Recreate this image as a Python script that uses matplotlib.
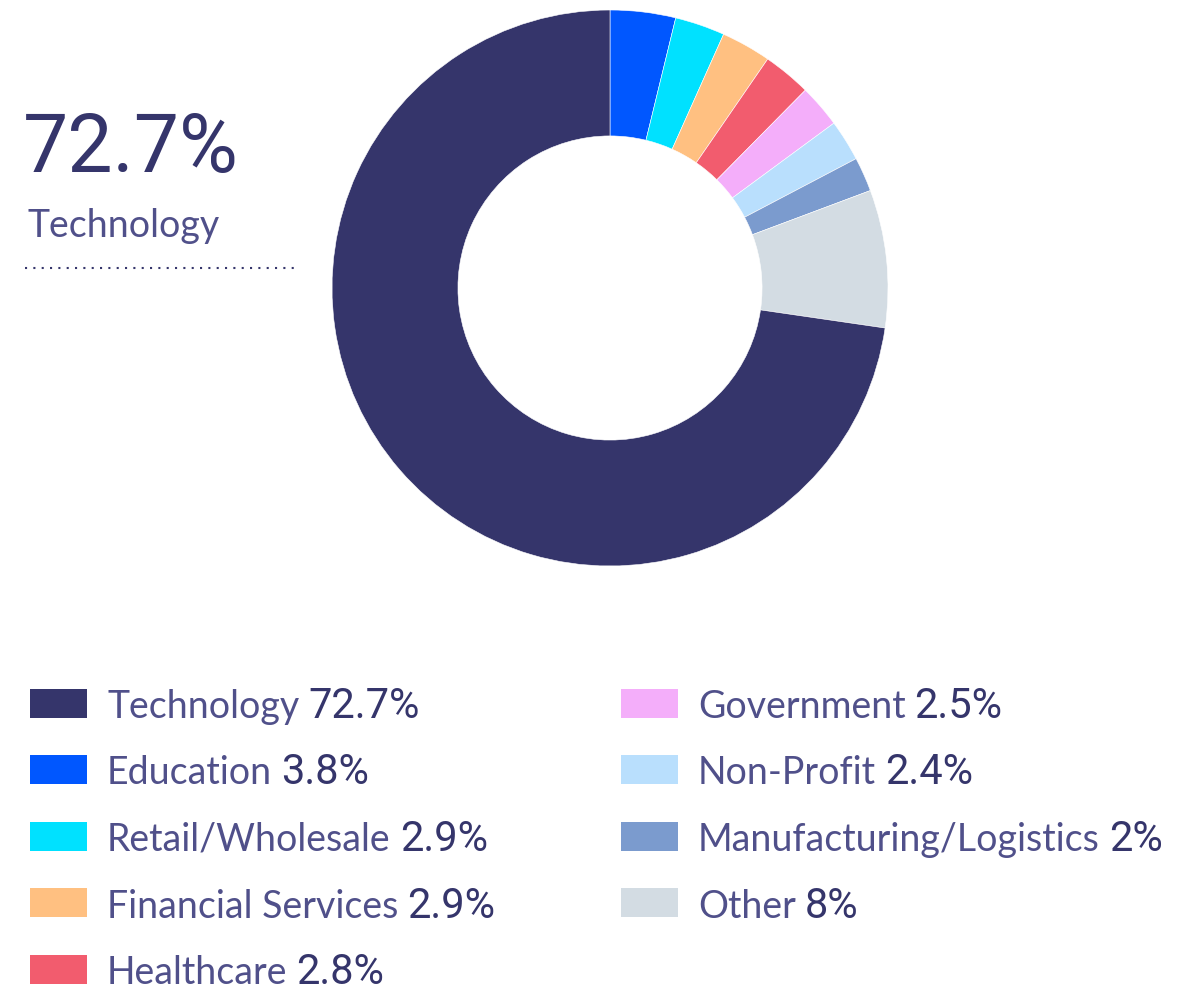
import matplotlib
matplotlib.use("Agg")
import matplotlib.pyplot as plt
from matplotlib.patches import Rectangle

# data
sectors = ["Technology", "Education", "Retail/Wholesale", "Financial Services",
           "Healthcare", "Government", "Non-Profit", "Manufacturing/Logistics", "Other"]
shares = [72.7, 3.8, 2.9, 2.9, 2.8, 2.5, 2.4, 2, 8]
share_labels = ["72.7%", "3.8%", "2.9%", "2.9%", "2.8%", "2.5%", "2.4%", "2%", "8%"]
colors = ["#35356b", "#0057ff", "#00e1ff", "#ffc081", "#f25c6e",
          "#f4aefa", "#b9dffd", "#7b9bce", "#d3dce3"]

W, H = 1185, 986
NAVY = "#35356b"
LABEL_COL = "#50508a"
NUM_FONT = ["Roboto", "DejaVu Sans"]
LBL_FONT = ["Lato", "DejaVu Sans"]


def fx(px):
    return px / W


def fy(py):
    return 1 - py / H


fig = plt.figure(figsize=(W / 100, H / 100), dpi=100)
fig.patch.set_facecolor("white")

# donut, clockwise from the top, Technology drawn last
cx, cy, r = 610, 288, 278
ax = fig.add_axes([fx(cx - r), fy(cy + r), 2 * r / W, 2 * r / H])
order = list(range(1, len(sectors))) + [0]
ax.pie([shares[i] for i in order], colors=[colors[i] for i in order],
       startangle=90, counterclock=False, radius=1,
       wedgeprops=dict(width=0.453, linewidth=0.4, edgecolor="white"))
ax.set_xlim(-1, 1)
ax.set_ylim(-1, 1)
ax.set_aspect("equal")
ax.axis("off")

# highlight on the left
fig.text(fx(23), fy(172), share_labels[0], fontsize=58, color=NAVY,
         family=NUM_FONT, ha="left", va="baseline")
fig.text(fx(27), fy(237), sectors[0], fontsize=27, color=LABEL_COL,
         family=LBL_FONT, ha="left", va="baseline")
fig.add_artist(plt.Line2D([fx(25), fx(300)], [fy(268), fy(268)],
                          transform=fig.transFigure, color=NAVY,
                          linestyle=(0, (1, 3)), linewidth=1.5))

# legend in two columns
renderer = fig.canvas.get_renderer()
col_x = [30, 621]
row_y0, row_step = 703, 66.5
for i, (name, lab, c) in enumerate(zip(sectors, share_labels, colors)):
    col = 0 if i < 5 else 1
    row = i if i < 5 else i - 5
    yc = row_y0 + row * row_step
    x0 = col_x[col]
    fig.add_artist(Rectangle((fx(x0), fy(yc + 14.5)), 57 / W, 29 / H,
                             transform=fig.transFigure, facecolor=c,
                             edgecolor="none"))
    t = fig.text(fx(x0 + 77), fy(yc + 15), name, fontsize=27, color=LABEL_COL,
                 family=LBL_FONT, ha="left", va="baseline")
    bb = t.get_window_extent(renderer)
    fig.text((bb.x1 + 9) / W, fy(yc + 15), lab, fontsize=30, color=NAVY,
             family=NUM_FONT, ha="left", va="baseline")

fig.savefig("out.png", dpi=100, facecolor="white")
